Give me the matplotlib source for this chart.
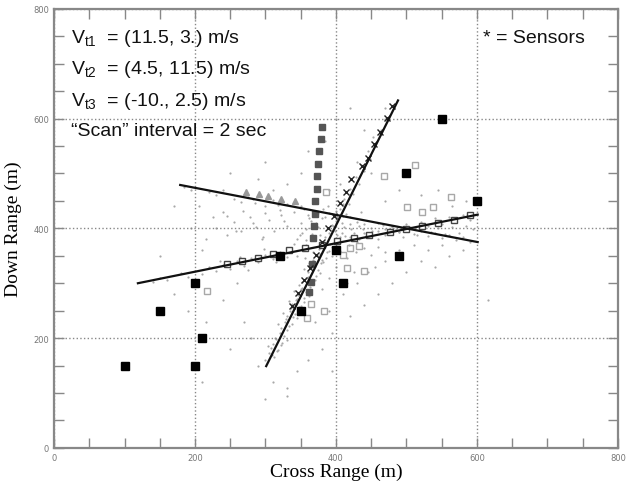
import matplotlib.pyplot as plt
from matplotlib.ticker import MultipleLocator

plt.rcParams['mathtext.fontset'] = 'custom'
plt.rcParams['mathtext.rm'] = 'Liberation Sans'

# sensor positions (black squares)
sensor_x = [100, 150, 200, 210, 200, 350, 320, 400, 490, 410, 550, 500, 600]
sensor_y = [150, 250, 300, 200, 150, 250, 350, 360, 350, 300, 600, 500, 450]

# fitted tracks (start / end points)
track1_x = [119, 601]
track1_y = [300, 425]
track2_x = [301, 488]
track2_y = [149, 633]
track3_x = [179, 601]
track3_y = [479, 375]

# target 1 reports (open squares along track 1)
t1_x = [245, 267, 289, 311, 333, 356, 380, 402, 425, 447, 477, 500, 522, 545, 567, 590]
t1_y = [335, 340, 346, 353, 360, 365, 370, 377, 383, 388, 393, 398, 404, 410, 416, 424]

# target 2 reports (x marks along track 2)
t2_x = [337, 346, 355, 363, 371, 380, 389, 397, 406, 414, 422, 437, 446, 454, 462, 472, 479]
t2_y = [259, 282, 305, 328, 351, 375, 400, 422, 446, 467, 489, 513, 529, 553, 576, 601, 622]

# target 3 reports (triangles along track 3)
t3_x = [272, 291, 304, 322, 342]
t3_y = [467, 462, 459, 454, 450]

# column of dark grey filled squares
col_x = [362, 365, 366, 367, 369, 370, 370, 373, 373, 375, 376, 379, 380]
col_y = [284, 302, 335, 382, 404, 426, 449, 471, 495, 517, 540, 562, 585]

# stray reports (light grey open squares)
stray_x = [217, 512, 468, 563, 501, 522, 538, 386, 410, 420, 433, 415, 440, 383, 359, 364]
stray_y = [285, 516, 495, 457, 438, 430, 438, 466, 351, 365, 368, 327, 322, 249, 236, 262]

# raw detections (grey dots)
dots_x = [300, 312, 305, 308, 318, 311, 322, 315, 326, 320, 330, 322, 334, 327, 338, 318,
          330, 342, 335, 345, 325, 338, 350, 343, 354, 333, 346, 358, 350, 362, 340,
          352, 366, 358, 370, 348, 360, 374, 366, 378, 355, 368, 382, 374, 386, 362,
          376, 390, 382, 394, 384, 398, 390, 402,
          396, 408, 402, 414, 406, 418, 412, 424, 420, 432, 428, 440, 436, 448, 446, 456,
          452, 464, 470,
          140, 150, 160, 180, 190, 200, 210, 220, 230, 240, 250, 235, 260, 270, 280, 290,
          275, 300, 310, 320, 330, 315,
          420, 430, 440, 450, 460, 470, 480, 490, 500, 510, 520, 530, 540, 550, 560, 570,
          580, 590,
          185, 195, 220, 230, 240, 255, 265, 275, 285, 300, 310, 320, 330,
          340, 350, 360, 370, 380, 390, 400, 410, 420,
          440, 450, 460, 470, 480, 490, 500, 510, 520, 530, 540, 550, 560, 570, 580, 590,
          345, 352, 358, 364, 372, 378, 385, 392, 398, 405, 412, 418, 425, 432, 438, 350,
          362, 375, 388, 400, 410, 420, 430, 436, 344, 356, 368, 380, 394, 406, 416, 428,
          440, 450, 460, 470,
          230, 245, 255, 265, 278, 286, 295, 305, 312, 322, 330, 240, 268, 300, 215, 225,
          205, 195, 210,
          150, 170, 190, 215, 240, 260, 280, 250, 290, 310, 330, 345, 360, 380, 395, 420,
          440, 460, 480, 500, 520, 540, 560, 580, 600, 615, 430, 410, 390, 370, 350, 455,
          470, 490, 510, 530, 550, 470, 490, 450, 430, 350, 330, 310, 290, 360, 385, 400,
          420, 300, 390, 405, 415, 425, 445, 400, 390, 380, 395, 270, 300, 330, 210, 170,
          250, 520, 545, 565, 585, 470, 440,
          303, 309, 316, 313, 324, 331, 329, 339, 336, 347, 344, 355, 352, 363, 361, 371,
          369, 379, 377, 387, 358, 366, 374, 341, 349, 357, 365, 373, 381, 395, 401, 409,
          413, 421, 427, 433, 443, 451, 459, 467, 475, 485, 495, 505, 515, 525, 535, 545,
          555, 565, 575, 585, 595, 264, 282, 298, 318, 336, 354, 246, 258, 282, 296, 326]
dots_y = [160, 165, 172, 182, 178, 190, 188, 198, 204, 210, 196, 218, 222, 230, 226, 226,
          240, 244, 250, 236, 246, 262, 258, 270, 266, 268, 278, 284, 290, 276, 286,
          302, 298, 310, 306, 296, 320, 324, 330, 318, 326, 342, 338, 350, 346, 336,
          362, 358, 370, 366, 384, 378, 392, 388,
          404, 410, 420, 426, 436, 444, 454, 462, 472, 480, 494, 504, 516, 526, 540, 552,
          566, 580, 600,
          302, 310, 306, 318, 312, 322, 316, 330, 322, 334, 326, 340, 340, 332, 346, 338,
          325, 352, 344, 356, 348, 338,
          384, 376, 392, 384, 396, 388, 402, 394, 408, 398, 412, 404, 418, 408, 420, 412,
          424, 416,
          476, 470, 466, 460, 470, 454, 448, 458, 446, 440, 452, 434, 444,
          430, 440, 424, 432, 418, 428, 414, 422, 408,
          408, 400, 410, 398, 404, 394, 400, 390, 396, 386, 392, 382, 388, 378, 384, 376,
          380, 392, 370, 400, 410, 388, 420, 372, 396, 384, 402, 370, 392, 380, 398, 410,
          418, 428, 440, 432, 444, 420, 412, 430, 350, 346, 356, 342, 350, 358, 346, 356,
          364, 352, 366, 356,
          400, 388, 412, 395, 420, 402, 380, 415, 396, 424, 404, 430, 432, 428, 380, 420,
          440, 400, 360,
          350, 280, 250, 230, 270, 300, 200, 180, 150, 120, 110, 140, 160, 180, 210, 240,
          260, 280, 300, 320, 340, 330, 350, 360, 330, 270, 300, 280, 250, 230, 200, 330,
          340, 360, 370, 360, 370, 450, 470, 500, 520, 500, 480, 470, 490, 540, 560, 600,
          620, 520, 470, 480, 300, 320, 320, 330, 310, 290, 140, 230, 90, 95, 120, 440,
          500, 460, 470, 440, 450, 620, 580,
          185, 170, 176, 200, 192, 214, 234, 238, 254, 256, 272, 274, 292, 294, 312, 314,
          334, 336, 354, 356, 378, 390, 402, 372, 388, 398, 414, 426, 436, 406, 418, 392,
          386, 398, 378, 404, 386, 396, 380, 406, 392, 398, 384, 402, 388, 406, 394, 400,
          390, 402, 392, 404, 398, 348, 454, 362, 442, 360, 436, 422, 396, 410, 384, 414]

fig = plt.figure(figsize=(6.28, 4.89), dpi=100)
ax = fig.add_axes([0.086, 0.082, 0.898, 0.898])

ax.scatter(dots_x, dots_y, s=2.5, color='#a8a8a8', linewidths=0, zorder=1)
ax.plot(stray_x, stray_y, 's', ms=5, mfc='none', mec='#a8a8a8', mew=1, zorder=2)
ax.plot(col_x, col_y, 's', ms=5, color='#555555', zorder=3)
ax.plot(t1_x, t1_y, 's', ms=5, mfc='white', mec='#444444', mew=1, zorder=3)
ax.plot(t3_x, t3_y, '^', ms=5, color='#999999', zorder=3)
ax.plot(t2_x, t2_y, 'x', ms=5, color='#222222', mew=1, zorder=4)

for tx, ty in [(track1_x, track1_y), (track2_x, track2_y), (track3_x, track3_y)]:
    ax.plot(tx, ty, '-', color='#111111', lw=1.6, zorder=5)

ax.plot(sensor_x, sensor_y, 's', ms=5.5, color='black', zorder=6)

ax.set_xlim(0, 800)
ax.set_ylim(0, 800)
ax.xaxis.set_major_locator(MultipleLocator(200))
ax.yaxis.set_major_locator(MultipleLocator(200))
ax.xaxis.set_minor_locator(MultipleLocator(50))
ax.yaxis.set_minor_locator(MultipleLocator(50))
ax.tick_params(which='both', direction='in', top=True, right=True, length=7,
               width=1, color='#888888', labelsize=6, labelcolor='#777777')
ax.grid(True, which='major', ls=':', color='#888888', lw=1)
for sp in ax.spines.values():
    sp.set_color('#888888')
    sp.set_linewidth(1.6)

ax.set_xlabel('Cross Range (m)', family='Liberation Serif', fontsize=14, labelpad=1)
ax.set_ylabel('Down Range (m)', family='Liberation Serif', fontsize=14, labelpad=8)

txt = dict(family='Liberation Sans', fontsize=14, va='center', ha='left', color='#111111')
ax.text(0.03, 0.935, r'V$_{\rm t1}$  = (11.5, 3.) m/s', transform=ax.transAxes, **txt)
ax.text(0.03, 0.863, r'V$_{\rm t2}$  = (4.5, 11.5) m/s', transform=ax.transAxes, **txt)
ax.text(0.03, 0.790, r'V$_{\rm t3}$  = (-10., 2.5) m/s', transform=ax.transAxes, **txt)
ax.text(0.03, 0.722, '\u201cScan\u201d interval = 2 sec', transform=ax.transAxes, **txt)
ax.text(0.76, 0.935, '* = Sensors', transform=ax.transAxes, **txt)

fig.savefig('out.png', dpi=100)
